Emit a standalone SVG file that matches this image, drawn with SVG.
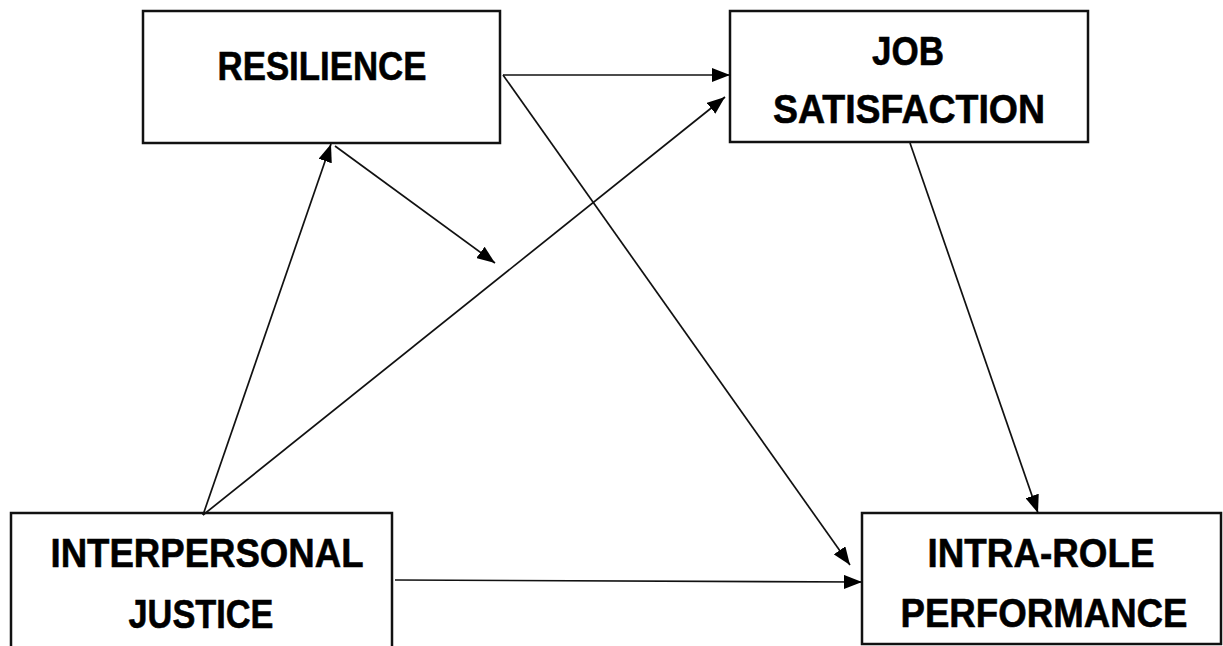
<svg xmlns="http://www.w3.org/2000/svg" width="1223" height="646" viewBox="0 0 1223 646">
<style>
.box{fill:#fff;stroke:#111;stroke-width:2.5}
.lbl{font-family:"Liberation Sans",Arial,sans-serif;font-weight:bold;font-size:41px;fill:#000;stroke:#000;stroke-width:0.6;text-anchor:middle}
.conn line{stroke:#111;stroke-width:1.7;marker-end:url(#ah)}
</style>
<defs>
<marker id="ah" viewBox="0 0 18 14" refX="18" refY="7" markerWidth="18" markerHeight="14" markerUnits="userSpaceOnUse" orient="auto">
<path d="M0,0 L18,7 L0,14 Z" fill="#000"/>
</marker>
</defs>
<rect width="1223" height="646" fill="#fff"/>
<g id="resilience">
<rect class="box" x="143" y="11" width="357" height="132"/>
<text class="lbl" x="322" y="80" textLength="209" lengthAdjust="spacingAndGlyphs">RESILIENCE</text>
</g>
<g id="job-satisfaction">
<rect class="box" x="730" y="11" width="358" height="131"/>
<text class="lbl" x="908" y="65" textLength="72" lengthAdjust="spacingAndGlyphs">JOB</text>
<text class="lbl" x="909" y="123" textLength="272" lengthAdjust="spacingAndGlyphs">SATISFACTION</text>
</g>
<g id="interpersonal-justice">
<rect class="box" x="11" y="513" width="381" height="140"/>
<text class="lbl" x="207" y="567" textLength="313" lengthAdjust="spacingAndGlyphs">INTERPERSONAL</text>
<text class="lbl" x="201" y="628" textLength="145" lengthAdjust="spacingAndGlyphs">JUSTICE</text>
</g>
<g id="intra-role-performance">
<rect class="box" x="862" y="513" width="359" height="131"/>
<text class="lbl" x="1041" y="567" textLength="227" lengthAdjust="spacingAndGlyphs">INTRA-ROLE</text>
<text class="lbl" x="1044" y="627" textLength="287" lengthAdjust="spacingAndGlyphs">PERFORMANCE</text>
</g>
<g id="connectors" class="conn">
<line x1="503" y1="75" x2="730" y2="75"/>
<line x1="503" y1="75" x2="850" y2="565"/>
<line x1="203" y1="515" x2="331" y2="144"/>
<line x1="335" y1="146" x2="495" y2="263"/>
<line x1="203" y1="515" x2="725" y2="97"/>
<line x1="910" y1="143" x2="1038" y2="513"/>
<line x1="395" y1="580" x2="862" y2="582"/>
</g>
</svg>
